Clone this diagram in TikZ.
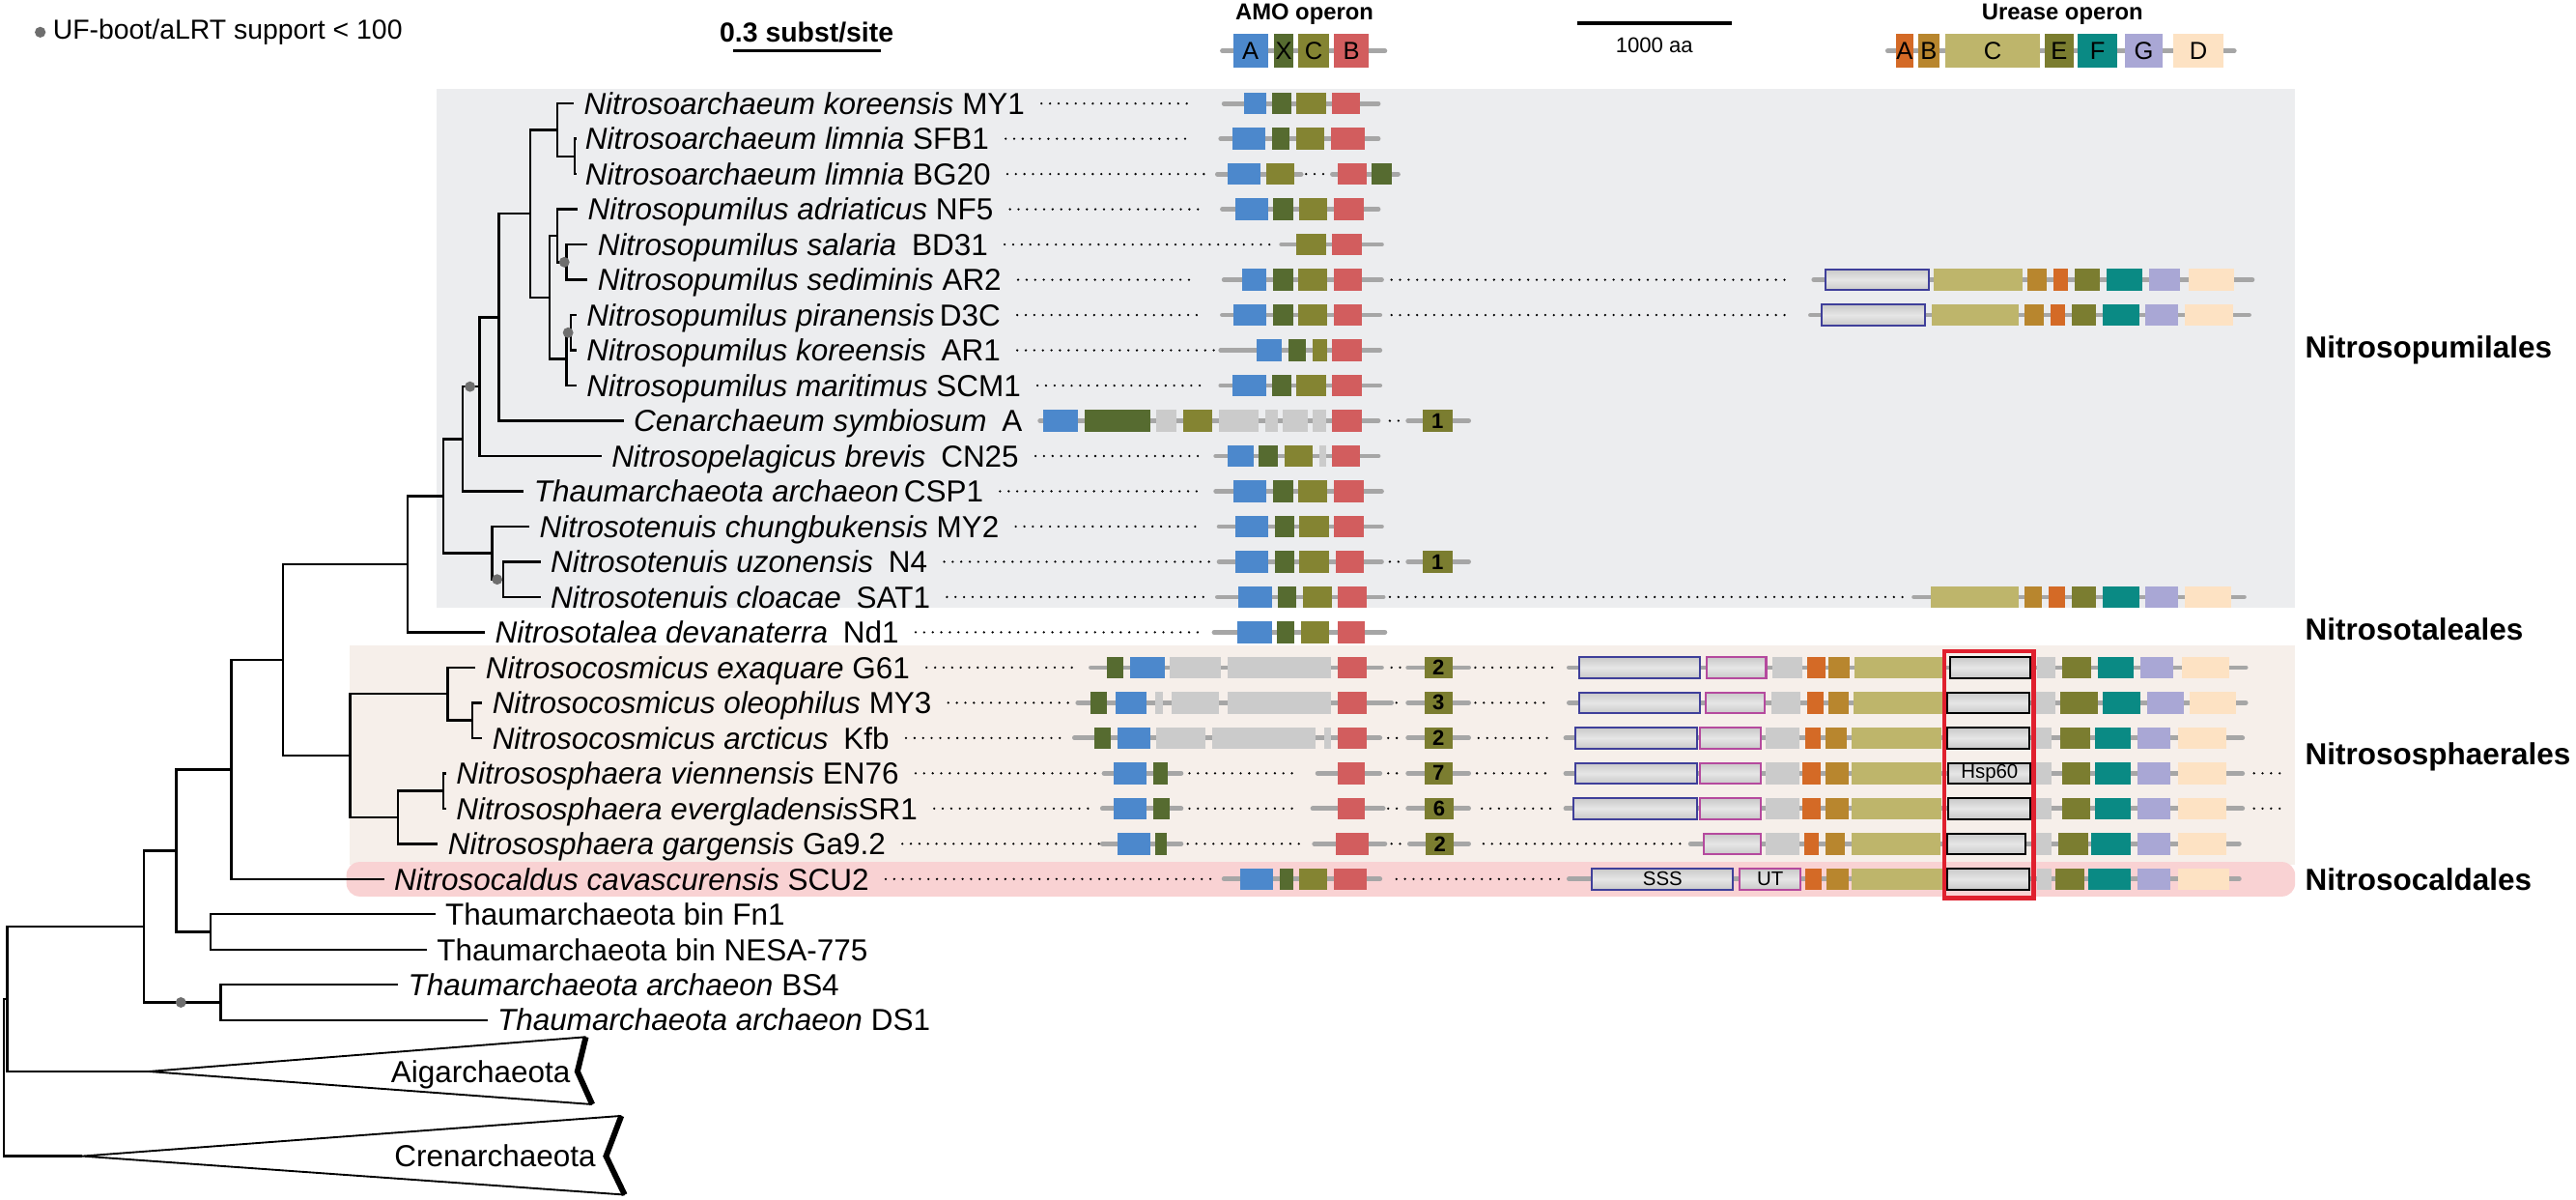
\documentclass[tikz,border=0pt]{standalone}
\usepackage{fontspec}
\setmainfont{Liberation Sans}
\usetikzlibrary{calc}
\definecolor{amoA}{HTML}{4C88CC}
\definecolor{amoX}{HTML}{566B30}
\definecolor{amoC}{HTML}{848432}
\definecolor{amoB}{HTML}{D25D5E}
\definecolor{geneg}{HTML}{CBCBCB}
\definecolor{bkc}{HTML}{A6A6A6}
\definecolor{ureA}{HTML}{D46A26}
\definecolor{ureB}{HTML}{B8862E}
\definecolor{ureC}{HTML}{BEB56B}
\definecolor{ureE}{HTML}{7B7D30}
\definecolor{ureF}{HTML}{0A8A84}
\definecolor{ureG}{HTML}{A9A7D5}
\definecolor{ureD}{HTML}{FDE2C3}
\definecolor{olblue}{HTML}{3F3F9A}
\definecolor{olpink}{HTML}{B54A9E}
\definecolor{supc}{HTML}{6E6E6E}
\definecolor{pgray}{HTML}{ECEDEF}
\definecolor{ppeach}{HTML}{F6EFEA}
\definecolor{ppink}{HTML}{F9D2D3}
\definecolor{hspred}{HTML}{E0202E}
\definecolor{shA}{HTML}{C9C9C9}
\definecolor{shB}{HTML}{E6E6E6}

\newcommand\RY[1]{63+21.45*#1}
\newcommand\gRow[1]{\pgfmathsetmacro\Y{\RY{#1}}}
\newcommand\gBk[2]{\draw[bk] (#1,\Y) -- (#2,\Y);}
\newcommand\gBox[3]{\fill[#3] (#1,\Y-6.6) rectangle (#2,\Y+6.6);}
\newcommand\gDot[2]{\draw[lead] (#1,\Y) -- (#2,\Y);}
\newcommand\gOut[3]{\path[obox,draw=#3] (#1,\Y-6.3) rectangle (#2,\Y+6.3);}
\newcommand\gNum[4]{\fill[ureE] (#1,\Y-6.6) rectangle (#2,\Y+6.6); \node[numt] (#4) at ({(#1+#2)/2},\Y) {#3};}

\tikzset{
 tr/.style={line width=1.4pt},
 lab/.style={font=\fontsize{18.5}{20}\selectfont, inner sep=0pt, text height=13.2pt, text depth=0pt, anchor=west},
 ord/.style={lab, font=\bfseries\fontsize{18.5}{20}\selectfont},
 lead/.style={line width=1.5pt, dash pattern=on 0pt off 5.2pt, line cap=round},
 bk/.style={line width=2.8pt, bkc, line cap=round},
 obox/.style={top color=shA, bottom color=shA, middle color=shB, line width=1.2pt},
 numt/.style={font=\bfseries\fontsize{13}{13}\selectfont, inner sep=0pt},
 intext/.style={font=\fontsize{12}{12}\selectfont, inner sep=0pt},
 legt/.style={font=\fontsize{15}{15}\selectfont, inner sep=0pt},
 hdr/.style={font=\fontsize{16.7}{18}\selectfont, inner sep=0pt},
}

\begin{document}
\begin{tikzpicture}[x=1pt,y=-1pt]
\useasboundingbox (0,0) rectangle (1568,730);

% ---------- background panels ----------
\fill[pgray] (265.5,54) rectangle (1397,370);
\fill[ppeach] (212.6,392.5) rectangle (1397,526);
\fill[ppink, rounded corners=8pt] (210.9,524.5) rectangle (1397,545.5);

% ---------- header ----------
\fill[supc] (24.5,19.6) circle (3.3);
\node[hdr, anchor=west] (suplab) at (32,19.6) {UF-boot/aLRT support < 100};
\node[hdr, font=\bfseries\fontsize{16.7}{18}\selectfont] (sclab) at (491,19.6) {0.3 subst/site};
\coordinate (sbL) at (446,30.8); \coordinate (sbR) at (536,30.8);
\draw[line width=2pt] (sbL) -- (sbR);
\node[font=\bfseries\fontsize{14}{14}\selectfont, inner sep=0pt] (amolab) at (794,8.8) {AMO operon};
\node[font=\bfseries\fontsize{14}{14}\selectfont, inner sep=0pt] (urelab) at (1255.4,8.8) {Urease operon};
\coordinate (aaL) at (959.8,14.1); \coordinate (aaR) at (1054.3,14.1);
\draw[line width=2.6pt] (aaL) -- (aaR);
\node[font=\fontsize{13}{13}\selectfont, inner sep=0pt] (aalab) at (1007,27.4) {1000 aa};
\def\Y{31}
\gBk{744}{843}
\fill[amoA] (750.5,20.7) rectangle (771.7,41.3); \node[legt] (lgA) at (761.1,31) {A};
\fill[amoX] (775.3,20.7) rectangle (787.4,41.3); \node[legt] (lgX) at (781.35,31) {X};
\fill[amoC] (790.1,20.7) rectangle (809,41.3); \node[legt] (lgC) at (799.55,31) {C};
\fill[amoB] (812.2,20.7) rectangle (832.9,41.3); \node[legt] (lgB) at (822.55,31) {B};
\gBk{1149}{1360}
\fill[ureA] (1154.2,20.7) rectangle (1164.5,41.3); \node[legt] (luA) at (1159.35,31) {A};
\fill[ureB] (1167.7,20.7) rectangle (1180.3,41.3); \node[legt] (luB) at (1174,31) {B};
\fill[ureC] (1183.9,20.7) rectangle (1241.9,41.3); \node[legt] (luC) at (1212.9,31) {C};
\fill[ureE] (1244.6,20.7) rectangle (1262.2,41.3); \node[legt] (luE) at (1253.4,31) {E};
\fill[ureF] (1264.9,20.7) rectangle (1288.7,41.3); \node[legt] (luF) at (1276.8,31) {F};
\fill[ureG] (1293.7,20.7) rectangle (1316.2,41.3); \node[legt] (luG) at (1304.95,31) {G};
\fill[ureD] (1322.9,20.7) rectangle (1353.5,41.3); \node[legt] (luD) at (1338.2,31) {D};

% ---------- tree ----------
\pgfmathsetmacro\ySL{(\RY{1}+\RY{2})/2}
\pgfmathsetmacro\yNA{(\RY{0}+\ySL)/2}
\pgfmathsetmacro\ySS{(\RY{4}+\RY{5})/2}
\pgfmathsetmacro\yNPa{(\RY{3}+\ySS)/2}
\pgfmathsetmacro\yPK{(\RY{6}+\RY{7})/2}
\pgfmathsetmacro\yNPb{(\yPK+\RY{8})/2}
\pgfmathsetmacro\yNP{(\yNPa+\yNPb)/2}
\pgfmathsetmacro\yNAP{(\yNA+\yNP)/2}
\pgfmathsetmacro\yCe{(\yNAP+\RY{9})/2}
\pgfmathsetmacro\yCN{(\yCe+\RY{10})/2}
\pgfmathsetmacro\yCS{(\yCN+\RY{11})/2}
\pgfmathsetmacro\yUS{(\RY{13}+\RY{14})/2}
\pgfmathsetmacro\yTn{(\RY{12}+\yUS)/2}
\pgfmathsetmacro\yPum{(\yCS+\yTn)/2}
\pgfmathsetmacro\yTal{(\yPum+\RY{15})/2}
\pgfmathsetmacro\yOA{(\RY{17}+\RY{18})/2}
\pgfmathsetmacro\yCos{(\RY{16}+\yOA)/2}
\pgfmathsetmacro\yVE{(\RY{19}+\RY{20})/2}
\pgfmathsetmacro\ySphb{(\yVE+\RY{21})/2}
\pgfmathsetmacro\ySph{(\yCos+\ySphb)/2}
\pgfmathsetmacro\yNa{(\yTal+\ySph)/2}
\pgfmathsetmacro\yNb{(\yNa+\RY{22})/2}
\pgfmathsetmacro\yFN{(\RY{23}+\RY{24})/2}
\pgfmathsetmacro\yCt{(\yNb+\yFN)/2}
\pgfmathsetmacro\yBD{(\RY{25}+\RY{26})/2}
\pgfmathsetmacro\yNd{(\yCt+\yBD)/2}
\pgfmathsetmacro\yNe{(\yNd+652)/2}
\pgfmathsetmacro\yNr{(\yNe+703.5)/2}

\coordinate (t0) at (349.2,{\RY{0}});
\coordinate (t1) at (351,{\RY{1}});
\coordinate (t2) at (351,{\RY{2}});
\coordinate (t3) at (351.6,{\RY{3}});
\coordinate (t4) at (357.6,{\RY{4}});
\coordinate (t5) at (357.6,{\RY{5}});
\coordinate (t6) at (350.9,{\RY{6}});
\coordinate (t7) at (350.9,{\RY{7}});
\coordinate (t8) at (350.9,{\RY{8}});
\coordinate (t9) at (379.6,{\RY{9}});
\coordinate (t10) at (366.1,{\RY{10}});
\coordinate (t11) at (318.8,{\RY{11}});
\coordinate (t12) at (322.2,{\RY{12}});
\coordinate (t13) at (329,{\RY{13}});
\coordinate (t14) at (329,{\RY{14}});
\coordinate (t15) at (295.2,{\RY{15}});
\coordinate (t16) at (289.5,{\RY{16}});
\coordinate (t17) at (293.5,{\RY{17}});
\coordinate (t18) at (293.5,{\RY{18}});
\coordinate (t19) at (271.5,{\RY{19}});
\coordinate (t20) at (271.5,{\RY{20}});
\coordinate (t21) at (266.5,{\RY{21}});
\coordinate (t22) at (233.8,{\RY{22}});
\coordinate (t23) at (264.9,{\RY{23}});
\coordinate (t24) at (259.8,{\RY{24}});
\coordinate (t25) at (242.3,{\RY{25}});
\coordinate (t26) at (296.7,{\RY{26}});
\coordinate (aig) at (90.5,652);
\coordinate (cren) at (50,703.5);

\coordinate (nSL) at (349.9,\ySL);
\coordinate (nNA) at (339.1,\yNA);
\coordinate (nSS) at (344.8,\ySS);
\coordinate (nNPa) at (339.1,\yNPa);
\coordinate (nPK) at (347.5,\yPK);
\coordinate (nNPb) at (344.8,\yNPb);
\coordinate (nNP) at (334.7,\yNP);
\coordinate (nNAP) at (322.9,\yNAP);
\coordinate (nCe) at (303.7,\yCe);
\coordinate (nCN) at (291.9,\yCN);
\coordinate (nCS) at (281.7,\yCS);
\coordinate (nUS) at (306.4,\yUS);
\coordinate (nTn) at (299.6,\yTn);
\coordinate (nPum) at (269.9,\yPum);
\coordinate (nTal) at (248,\yTal);
\coordinate (nOA) at (287.5,\yOA);
\coordinate (nCos) at (272.6,\yCos);
\coordinate (nVE) at (269.9,\yVE);
\coordinate (nSphb) at (242.3,\ySphb);
\coordinate (nSph) at (213.2,\ySph);
\coordinate (nNa) at (172.1,\yNa);
\coordinate (nNb) at (140.7,\yNb);
\coordinate (nFN) at (128.2,\yFN);
\coordinate (nCt) at (107.3,\yCt);
\coordinate (nBD) at (134.3,\yBD);
\coordinate (nNd) at (87.5,\yNd);
\coordinate (nNe) at (4.4,\yNe);
\coordinate (nNr) at (2.2,\yNr);

\draw[tr] (nSL) |- (t1); \draw[tr] (nSL) |- (t2);
\draw[tr] (nNA) |- (t0); \draw[tr] (nNA) |- (nSL);
\draw[tr] (nSS) |- (t4); \draw[tr] (nSS) |- (t5);
\draw[tr] (nNPa) |- (t3); \draw[tr] (nNPa) |- (nSS);
\draw[tr] (nPK) |- (t6); \draw[tr] (nPK) |- (t7);
\draw[tr] (nNPb) |- (nPK); \draw[tr] (nNPb) |- (t8);
\draw[tr] (nNP) |- (nNPa); \draw[tr] (nNP) |- (nNPb);
\draw[tr] (nNAP) |- (nNA); \draw[tr] (nNAP) |- (nNP);
\draw[tr] (nCe) |- (nNAP); \draw[tr] (nCe) |- (t9);
\draw[tr] (nCN) |- (nCe); \draw[tr] (nCN) |- (t10);
\draw[tr] (nCS) |- (nCN); \draw[tr] (nCS) |- (t11);
\draw[tr] (nUS) |- (t13); \draw[tr] (nUS) |- (t14);
\draw[tr] (nTn) |- (t12); \draw[tr] (nTn) |- (nUS);
\draw[tr] (nPum) |- (nCS); \draw[tr] (nPum) |- (nTn);
\draw[tr] (nTal) |- (nPum); \draw[tr] (nTal) |- (t15);
\draw[tr] (nOA) |- (t17); \draw[tr] (nOA) |- (t18);
\draw[tr] (nCos) |- (t16); \draw[tr] (nCos) |- (nOA);
\draw[tr] (nVE) |- (t19); \draw[tr] (nVE) |- (t20);
\draw[tr] (nSphb) |- (nVE); \draw[tr] (nSphb) |- (t21);
\draw[tr] (nSph) |- (nCos); \draw[tr] (nSph) |- (nSphb);
\draw[tr] (nNa) |- (nTal); \draw[tr] (nNa) |- (nSph);
\draw[tr] (nNb) |- (nNa); \draw[tr] (nNb) |- (t22);
\draw[tr] (nFN) |- (t23); \draw[tr] (nFN) |- (t24);
\draw[tr] (nCt) |- (nNb); \draw[tr] (nCt) |- (nFN);
\draw[tr] (nBD) |- (t25); \draw[tr] (nBD) |- (t26);
\draw[tr] (nNd) |- (nCt); \draw[tr] (nNd) |- (nBD);
\draw[tr] (nNe) |- (nNd); \draw[tr] (nNe) |- (aig);
\draw[tr] (nNr) |- (nNe); \draw[tr] (nNr) |- (cren);

% support dots
\fill[supc] ($(nSS)+(-1.3,0)$) circle (3.2);
\fill[supc] ($(nPK)+(-1.7,0)$) circle (3.2);
\fill[supc] ($(nCN)+(-5.8,0)$) circle (3.2);
\fill[supc] ($(nUS)+(-3.8,0)$) circle (3.2);
\fill[supc] ($(nBD)+(-24.2,0)$) circle (3.2);

% collapsed clades
\coordinate (aigT) at (356.6,631); \coordinate (aigN) at (351.5,652); \coordinate (aigB) at (360.5,672);
\coordinate (crT) at (378.2,679); \coordinate (crN) at (368.9,703.5); \coordinate (crB) at (380.2,727);
\draw[line width=1.1pt] (aigT) -- (aig) -- (aigB);
\draw[line width=3.5pt, line join=miter] (aigT) -- (aigN) -- (aigB);
\draw[line width=1.1pt] (crT) -- (cren) -- (crB);
\draw[line width=3.5pt, line join=miter] (crT) -- (crN) -- (crB);
\node[lab, anchor=east] (aiglab) at (347.3,652) {Aigarchaeota};
\node[lab, anchor=east] (crenlab) at (362.7,703.5) {Crenarchaeota};

% ---------- tip labels ----------
\node[lab] (l0) at ([xshift=6pt]t0) {\textit{Nitrosoarchaeum koreensis} MY1};
\node[lab] (l1) at ([xshift=5pt]t1) {\textit{Nitrosoarchaeum limnia} SFB1};
\node[lab] (l2) at ([xshift=5pt]t2) {\textit{Nitrosoarchaeum limnia} BG20};
\node[lab] (l3) at ([xshift=6pt]t3) {\textit{Nitrosopumilus adriaticus} NF5};
\node[lab] (l4) at ([xshift=6pt]t4) {\textit{Nitrosopumilus salaria}\enspace BD31};
\node[lab] (l5) at ([xshift=6pt]t5) {\textit{Nitrosopumilus sediminis} AR2};
\node[lab] (l6) at ([xshift=6pt]t6) {\textit{Nitrosopumilus piranensis}\,D3C};
\node[lab] (l7) at ([xshift=6pt]t7) {\textit{Nitrosopumilus koreensis}\enspace AR1};
\node[lab] (l8) at ([xshift=6pt]t8) {\textit{Nitrosopumilus maritimus} SCM1};
\node[lab] (l9) at ([xshift=6pt]t9) {\textit{Cenarchaeum symbiosum}\enspace A};
\node[lab] (l10) at ([xshift=6pt]t10) {\textit{Nitrosopelagicus brevis}\enspace CN25};
\node[lab] (l11) at ([xshift=6pt]t11) {\textit{Thaumarchaeota archaeon}\,CSP1};
\node[lab] (l12) at ([xshift=6pt]t12) {\textit{Nitrosotenuis chungbukensis} MY2};
\node[lab] (l13) at ([xshift=6pt]t13) {\textit{Nitrosotenuis uzonensis}\enspace N4};
\node[lab] (l14) at ([xshift=6pt]t14) {\textit{Nitrosotenuis cloacae}\enspace SAT1};
\node[lab] (l15) at ([xshift=6pt]t15) {\textit{Nitrosotalea devanaterra}\enspace Nd1};
\node[lab] (l16) at ([xshift=6pt]t16) {\textit{Nitrosocosmicus exaquare} G61};
\node[lab] (l17) at ([xshift=6pt]t17) {\textit{Nitrosocosmicus oleophilus} MY3};
\node[lab] (l18) at ([xshift=6pt]t18) {\textit{Nitrosocosmicus arcticus}\enspace Kfb};
\node[lab] (l19) at ([xshift=6pt]t19) {\textit{Nitrososphaera viennensis} EN76};
\node[lab] (l20) at ([xshift=6pt]t20) {\textit{Nitrososphaera evergladensis}SR1};
\node[lab] (l21) at ([xshift=6pt]t21) {\textit{Nitrososphaera gargensis} Ga9.2};
\node[lab] (l22) at ([xshift=6pt]t22) {\textit{Nitrosocaldus cavascurensis} SCU2};
\node[lab] (l23) at ([xshift=6pt]t23) {Thaumarchaeota bin Fn1};
\node[lab] (l24) at ([xshift=6pt]t24) {Thaumarchaeota bin NESA-775};
\node[lab] (l25) at ([xshift=6pt]t25) {\textit{Thaumarchaeota archaeon} BS4};
\node[lab] (l26) at ([xshift=6pt]t26) {\textit{Thaumarchaeota archaeon} DS1};

% ---------- order labels ----------
\node[ord] (o1) at (1403,211) {Nitrosopumilales};
\node[ord] (o2) at (1403,383) {Nitrosotaleales};
\node[ord] (o3) at (1403,458.5) {Nitrososphaerales};
\node[ord] (o4) at (1403,535) {Nitrosocaldales};

% ---------- gene rows ----------
\gRow{0}
\draw[lead] ([xshift=10pt]l0.east) -- (724,\Y);
\gBk{745}{839} \gBox{757}{771}{amoA} \gBox{774}{786}{amoX} \gBox{789}{807}{amoC} \gBox{811}{828}{amoB}
\gRow{1}
\draw[lead] ([xshift=10pt]l1.east) -- (726,\Y);
\gBk{743}{839} \gBox{750}{770}{amoA} \gBox{774}{785}{amoX} \gBox{789}{806}{amoC} \gBox{810}{831}{amoB}
\gRow{2}
\draw[lead] ([xshift=10pt]l2.east) -- (735,\Y);
\gBk{741}{792} \gDot{795}{808} \gBk{811}{851}
\gBox{747}{767}{amoA} \gBox{771}{788}{amoC} \gBox{814}{832}{amoB} \gBox{835}{847}{amoX}
\gRow{3}
\draw[lead] ([xshift=10pt]l3.east) -- (732,\Y);
\gBk{744}{839} \gBox{752}{772}{amoA} \gBox{775}{787}{amoX} \gBox{791}{808}{amoC} \gBox{812}{830}{amoB}
\gRow{4}
\draw[lead] ([xshift=10pt]l4.east) -- (775,\Y);
\gBk{780}{841} \gBox{789}{807}{amoC} \gBox{811}{829}{amoB}
\gRow{5}
\draw[lead] ([xshift=10pt]l5.east) -- (727,\Y);
\gBk{745}{841} \gBox{756}{771}{amoA} \gBox{775}{787}{amoX} \gBox{790}{808}{amoC} \gBox{812}{829}{amoB}
\gDot{847}{1089} \gBk{1104}{1371}
\gOut{1111}{1174}{olblue} \gBox{1177}{1231}{ureC} \gBox{1234}{1246}{ureB} \gBox{1250}{1259}{ureA}
\gBox{1263}{1278}{ureE} \gBox{1282}{1304}{ureF} \gBox{1308}{1327}{ureG} \gBox{1332}{1360}{ureD}
\gRow{6}
\draw[lead] ([xshift=10pt]l6.east) -- (730,\Y);
\gBk{744}{840} \gBox{751}{771}{amoA} \gBox{775}{787}{amoX} \gBox{790}{808}{amoC} \gBox{812}{829}{amoB}
\gDot{847}{1087} \gBk{1102}{1369}
\gOut{1109}{1172}{olblue} \gBox{1176}{1229}{ureC} \gBox{1232}{1244}{ureB} \gBox{1248}{1257}{ureA}
\gBox{1261}{1276}{ureE} \gBox{1280}{1302}{ureF} \gBox{1306}{1326}{ureG} \gBox{1330}{1359}{ureD}
\gRow{7}
\draw[lead] ([xshift=10pt]l7.east) -- (741,\Y);
\gBk{743}{840} \gBox{765}{780}{amoA} \gBox{784}{795}{amoX} \gBox{799}{808}{amoC} \gBox{811}{829}{amoB}
\gRow{8}
\draw[lead] ([xshift=10pt]l8.east) -- (733,\Y);
\gBk{743}{840} \gBox{750}{771}{amoA} \gBox{774}{786}{amoX} \gBox{789}{807}{amoC} \gBox{811}{829}{amoB}
\gRow{9}
\gBk{633}{839} \gBox{635}{656}{amoA} \gBox{660}{700}{amoX} \gBox{704}{716}{geneg} \gBox{720}{738}{amoC}
\gBox{742}{766}{geneg} \gBox{770}{778}{geneg} \gBox{781}{796}{geneg} \gBox{799}{807}{geneg} \gBox{811}{829}{amoB}
\gDot{846}{855} \gBk{857}{894} \gNum{866}{884}{1}{num9}
\gRow{10}
\draw[lead] ([xshift=10pt]l10.east) -- (733,\Y);
\gBk{740}{839} \gBox{747}{763}{amoA} \gBox{766}{778}{amoX} \gBox{782}{799}{amoC} \gBox{803}{807}{geneg} \gBox{811}{828}{amoB}
\gRow{11}
\draw[lead] ([xshift=10pt]l11.east) -- (733,\Y);
\gBk{740}{841} \gBox{751}{771}{amoA} \gBox{775}{787}{amoX} \gBox{790}{808}{amoC} \gBox{812}{830}{amoB}
\gRow{12}
\draw[lead] ([xshift=10pt]l12.east) -- (730,\Y);
\gBk{742}{841} \gBox{752}{772}{amoA} \gBox{776}{788}{amoX} \gBox{791}{809}{amoC} \gBox{812}{830}{amoB}
\gRow{13}
\draw[lead] ([xshift=10pt]l13.east) -- (738,\Y);
\gBk{742}{841} \gBox{752}{772}{amoA} \gBox{776}{788}{amoX} \gBox{791}{809}{amoC} \gBox{813}{830}{amoB}
\gDot{846}{855} \gBk{857}{894} \gNum{866}{884}{1}{num13}
\gRow{14}
\draw[lead] ([xshift=10pt]l14.east) -- (733,\Y);
\gBk{741}{842} \gBox{754}{774}{amoA} \gBox{778}{789}{amoX} \gBox{793}{811}{amoC} \gBox{814}{832}{amoB}
\gDot{846}{1158} \gBk{1165}{1366}
\gBox{1175}{1229}{ureC} \gBox{1232}{1243}{ureB} \gBox{1247}{1257}{ureA}
\gBox{1261}{1276}{ureE} \gBox{1280}{1302}{ureF} \gBox{1306}{1326}{ureG} \gBox{1330}{1358}{ureD}
\gRow{15}
\draw[lead] ([xshift=10pt]l15.east) -- (730,\Y);
\gBk{739}{843} \gBox{753}{774}{amoA} \gBox{777}{788}{amoX} \gBox{792}{809}{amoC} \gBox{814}{831}{amoB}
\gRow{16}
\draw[lead] ([xshift=10pt]l16.east) -- (654,\Y);
\gBk{664}{841} \gBox{674}{684}{amoX} \gBox{688}{709}{amoA} \gBox{712}{743}{geneg} \gBox{747}{810}{geneg} \gBox{814}{832}{amoB}
\gDot{847}{855} \gBk{857}{894} \gNum{867}{884}{2}{num16}
\gDot{898}{945} \gBk{955}{1367}
\gOut{961}{1035}{olblue} \gOut{1039}{1075}{olpink} \gBox{1079}{1097}{geneg} \gBox{1100}{1111}{ureA} \gBox{1113}{1126}{ureB}
\gBox{1129}{1183}{ureC} \gOut{1187}{1236}{black} \gBox{1240}{1251}{geneg}
\gBox{1255}{1273}{ureE} \gBox{1277}{1299}{ureF} \gBox{1303}{1323}{ureG} \gBox{1328}{1357}{ureD}
\gRow{17}
\draw[lead] ([xshift=10pt]l17.east) -- (655,\Y);
\gBk{656}{847} \gBox{664}{674}{amoX} \gBox{679}{698}{amoA} \gBox{703}{708}{geneg} \gBox{713}{742}{geneg} \gBox{747}{810}{geneg} \gBox{814}{832}{amoB}
\gDot{850}{855} \gBk{857}{894} \gNum{867}{884}{3}{num17}
\gDot{898}{944} \gBk{955}{1367}
\gOut{961}{1035}{olblue} \gOut{1038}{1074}{olpink} \gBox{1078}{1096}{geneg} \gBox{1100}{1110}{ureA} \gBox{1113}{1125}{ureB}
\gBox{1128}{1183}{ureC} \gOut{1185}{1235}{black} \gBox{1239}{1251}{geneg}
\gBox{1254}{1277}{ureE} \gBox{1280}{1303}{ureF} \gBox{1307}{1329}{ureG} \gBox{1333}{1361}{ureD}
\gRow{18}
\draw[lead] ([xshift=10pt]l18.east) -- (648,\Y);
\gBk{654}{840} \gBox{666}{676}{amoX} \gBox{680}{700}{amoA} \gBox{704}{734}{geneg} \gBox{738}{801}{geneg} \gBox{806}{810}{geneg} \gBox{814}{832}{amoB}
\gDot{845}{853} \gBk{857}{894} \gNum{867}{884}{2}{num18}
\gDot{900}{945} \gBk{953}{1365}
\gOut{959}{1033}{olblue} \gOut{1035}{1072}{olpink} \gBox{1075}{1095}{geneg} \gBox{1099}{1108}{ureA} \gBox{1111}{1124}{ureB}
\gBox{1127}{1182}{ureC} \gOut{1185}{1235}{black} \gBox{1239}{1249}{geneg}
\gBox{1254}{1272}{ureE} \gBox{1275}{1297}{ureF} \gBox{1301}{1321}{ureG} \gBox{1326}{1355}{ureD}
\gRow{19}
\draw[lead] ([xshift=10pt]l19.east) -- (669,\Y);
\gBk{672}{719} \gBox{678}{698}{amoA} \gBox{702}{711}{amoX}
\gDot{724}{791} \gBk{802}{840} \gBox{814}{831}{amoB}
\gDot{845}{855} \gBk{857}{894} \gNum{867}{884}{7}{num19}
\gDot{899}{945} \gBk{953}{1365}
\gOut{959}{1033}{olblue} \gOut{1035}{1072}{olpink} \gBox{1075}{1095}{geneg} \gBox{1097}{1108}{ureA} \gBox{1111}{1125}{ureB}
\gBox{1127}{1182}{ureC} \gOut{1186}{1236}{black} \node[intext] (hsp) at (1211,\Y) {Hsp60}; \gBox{1239}{1249}{geneg}
\gBox{1255}{1272}{ureE} \gBox{1275}{1297}{ureF} \gBox{1301}{1321}{ureG} \gBox{1326}{1355}{ureD}
\gDot{1372}{1391}
\gRow{20}
\draw[lead] ([xshift=10pt]l20.east) -- (667,\Y);
\gBk{671}{719} \gBox{678}{698}{amoA} \gBox{702}{712}{amoX}
\gDot{724}{791} \gBk{799}{842} \gBox{814}{831}{amoB}
\gDot{845}{855} \gBk{857}{894} \gNum{867}{885}{6}{num20}
\gDot{902}{945} \gBk{953}{1365}
\gOut{958}{1033}{olblue} \gOut{1035}{1072}{olpink} \gBox{1075}{1095}{geneg} \gBox{1097}{1108}{ureA} \gBox{1111}{1125}{ureB}
\gBox{1127}{1182}{ureC} \gOut{1186}{1236}{black} \gBox{1239}{1249}{geneg}
\gBox{1255}{1272}{ureE} \gBox{1275}{1297}{ureF} \gBox{1301}{1321}{ureG} \gBox{1326}{1355}{ureD}
\gDot{1372}{1391}
\gRow{21}
\draw[lead] ([xshift=10pt]l21.east) -- (669,\Y);
\gBk{671}{719} \gBox{680}{700}{amoA} \gBox{703}{710}{amoX}
\gDot{723}{794} \gBk{800}{843} \gBox{813}{833}{amoB}
\gDot{847}{855} \gBk{858}{894} \gNum{868}{885}{2}{num21}
\gDot{903}{1027} \gBk{1029}{1363}
\gOut{1037}{1072}{olpink} \gBox{1075}{1095}{geneg} \gBox{1098}{1107}{ureA} \gBox{1111}{1123}{ureB}
\gBox{1127}{1181}{ureC} \gOut{1185}{1233}{black} \gBox{1239}{1249}{geneg}
\gBox{1253}{1271}{ureE} \gBox{1273}{1297}{ureF} \gBox{1301}{1321}{ureG} \gBox{1326}{1355}{ureD}
\gRow{22}
\draw[lead] ([xshift=10pt]l22.east) -- (737.5,\Y);
\gBk{745}{840} \gBox{755}{775}{amoA} \gBox{779}{787}{amoX} \gBox{791}{808}{amoC} \gBox{812}{832}{amoB}
\gDot{850}{949} \gBk{955}{1363}
\gOut{969}{1055}{olblue} \node[intext] (sss) at (1012,\Y) {SSS};
\gOut{1059}{1096}{olpink} \node[intext] (ut) at (1077.5,\Y) {UT};
\gBox{1099}{1109}{ureA} \gBox{1112}{1125}{ureB}
\gBox{1127}{1183}{ureC} \gOut{1185}{1235}{black} \gBox{1240}{1249}{geneg}
\gBox{1251}{1269}{ureE} \gBox{1271}{1297}{ureF} \gBox{1301}{1321}{ureG} \gBox{1326}{1357}{ureD}

% red frame around Hsp60
\draw[hspred, line width=2.6pt] (1183.4,396.4) rectangle (1237.8,546.4);

\end{tikzpicture}
\end{document}
